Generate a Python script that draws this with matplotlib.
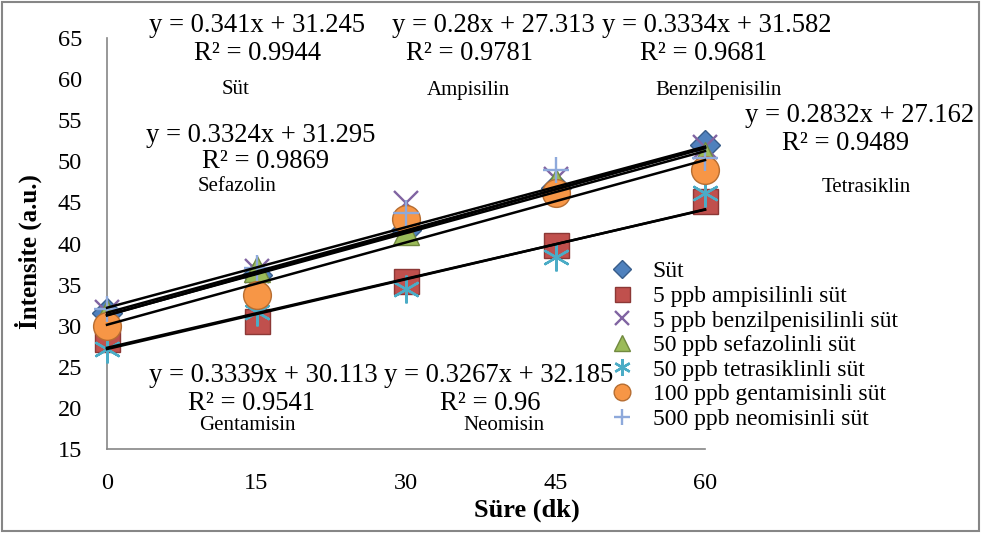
import matplotlib
matplotlib.use('Agg')
import matplotlib.pyplot as plt
from matplotlib.patches import Rectangle
import numpy as np

# time points (dk)
sure = [0, 15, 30, 45, 60]

# intensities
sut = [31.6, 36.2, 41.7, 46.8, 52.0]
ampisilin = [28.4, 30.6, 35.4, 39.8, 45.2]
benzilpenisilin = [31.7, 36.7, 44.9, 47.9, 51.8]
sefazolin = [31.5, 36.9, 41.4, 47.5, 50.8]
tetrasiklin = [27.2, 31.7, 34.5, 38.4, 46.2]
gentamisin = [30.0, 33.7, 43.0, 46.1, 48.9]
neomisin = [32.0, 37.0, 43.7, 48.9, 50.4]

series_names = ['Süt', '5 ppb ampisilinli süt', '5 ppb benzilpenisilinli süt',
                '50 ppb sefazolinli süt', '50 ppb tetrasiklinli süt',
                '100 ppb gentamisinli süt', '500 ppb neomisinli süt']
series_values = [sut, ampisilin, benzilpenisilin, sefazolin, tetrasiklin, gentamisin, neomisin]

# linear trendlines as printed on the chart (same order as the series)
slopes = [0.341, 0.28, 0.3334, 0.3324, 0.2832, 0.3339, 0.3267]
intercepts = [31.245, 27.313, 31.582, 31.295, 27.162, 30.113, 32.185]
slope_txt = ['0.341', '0.28', '0.3334', '0.3324', '0.2832', '0.3339', '0.3267']
intercept_txt = ['31.245', '27.313', '31.582', '31.295', '27.162', '30.113', '32.185']
r2_values = ['0.9944', '0.9781', '0.9681', '0.9869', '0.9489', '0.9541', '0.96']
trend_labels = ['Süt', 'Ampisilin', 'Benzilpenisilin', 'Sefazolin', 'Tetrasiklin',
                'Gentamisin', 'Neomisin']

# marker styles (Excel 2007 palette)
markers = ['D', 's', 'x', '^', (6, 2, 0), 'o', '+']
colors = ['#4F81BD', '#C0504D', '#8064A2', '#9BBB59', '#4BACC6', '#F79646', '#8EA9DB']
edges = ['#385D8A', '#8C3836', '#8064A2', '#71893F', '#4BACC6', '#B66D31', '#8EA9DB']
sizes = [15, 18, 17, 19, 20, 20, 19]

plt.rcParams['font.family'] = ['Liberation Serif', 'DejaVu Serif']

W, H = 981, 533
fig = plt.figure(figsize=(W / 100, H / 100), dpi=100)
ax = fig.add_axes([107 / W, 1 - 449 / H, (705 - 107) / W, (449 - 38) / H])

for name, vals, m, c, ec, ms in zip(series_names, series_values, markers, colors, edges, sizes):
    kw = dict(marker=m, linestyle='none', markersize=ms, label=name, zorder=3, clip_on=False)
    if m in ('x', '+') or isinstance(m, tuple):
        kw.update(color=c, markeredgewidth=1.7)
    else:
        kw.update(markerfacecolor=c, markeredgecolor=ec, markeredgewidth=1.0)
    ax.plot(sure, vals, **kw)

xs = np.array([sure[0], sure[-1]])
for a, b in zip(slopes, intercepts):
    ax.plot(xs, a * xs + b, color='black', linewidth=1.8, zorder=4, clip_on=False)

ax.set_xlim(0, 60)
ax.set_ylim(15, 65)
ax.set_xticks(sure)
ax.set_yticks(range(15, 66, 5))
ax.tick_params(length=0, labelsize=17.5)
ax.tick_params(axis='y', pad=18)
ax.tick_params(axis='x', pad=17)
for side in ['top', 'right']:
    ax.spines[side].set_visible(False)
for side in ['left', 'bottom']:
    ax.spines[side].set_color('#868686')
    ax.spines[side].set_linewidth(1.2)
ax.patch.set_alpha(0)

# annotation centres in pixels, same order as the series
eq_pos = [(257, 25), (493, 25), (717, 25), (261, 135), (860, 116), (263, 376), (499, 376)]
r2_pos = [(257, 53), (470, 53), (703, 53), (265, 162), (845, 143), (252, 404), (490, 404)]
lab_pos = [(236, 90), (468, 90), (719, 90), (237, 186), (866, 187), (247, 426), (504, 426)]
for i in range(len(slopes)):
    ex, ey = eq_pos[i]
    fig.text(ex / W, 1 - ey / H, f'y = {slope_txt[i]}x + {intercept_txt[i]}',
             ha='center', va='center', fontsize=19.2)
    rx, ry = r2_pos[i]
    fig.text(rx / W, 1 - ry / H, f'R² = {r2_values[i]}', ha='center', va='center', fontsize=19.2)
    lx, ly = lab_pos[i]
    fig.text(lx / W, 1 - ly / H, trend_labels[i], ha='center', va='center', fontsize=15)

fig.text(527 / W, 1 - 510 / H, 'Süre (dk)', ha='center', va='center',
         fontsize=19, fontweight='bold')
fig.text(28 / W, 1 - 252 / H, 'İntensite (a.u.)', ha='center', va='center',
         fontsize=18, fontweight='bold', rotation=90)

leg = ax.legend(loc='upper left', bbox_to_anchor=(596 / W, 1 - 249 / H),
                bbox_transform=fig.transFigure, frameon=False, fontsize=17,
                markerscale=0.6, handlelength=1.2, handletextpad=0.7,
                labelspacing=0.13, borderpad=0)

fig.patches.append(Rectangle((2 / W, 2 / H), 1 - 4 / W, 1 - 4 / H, transform=fig.transFigure,
                             fill=False, edgecolor='#868686', linewidth=1.5))

fig.savefig('out.png', dpi=100)
